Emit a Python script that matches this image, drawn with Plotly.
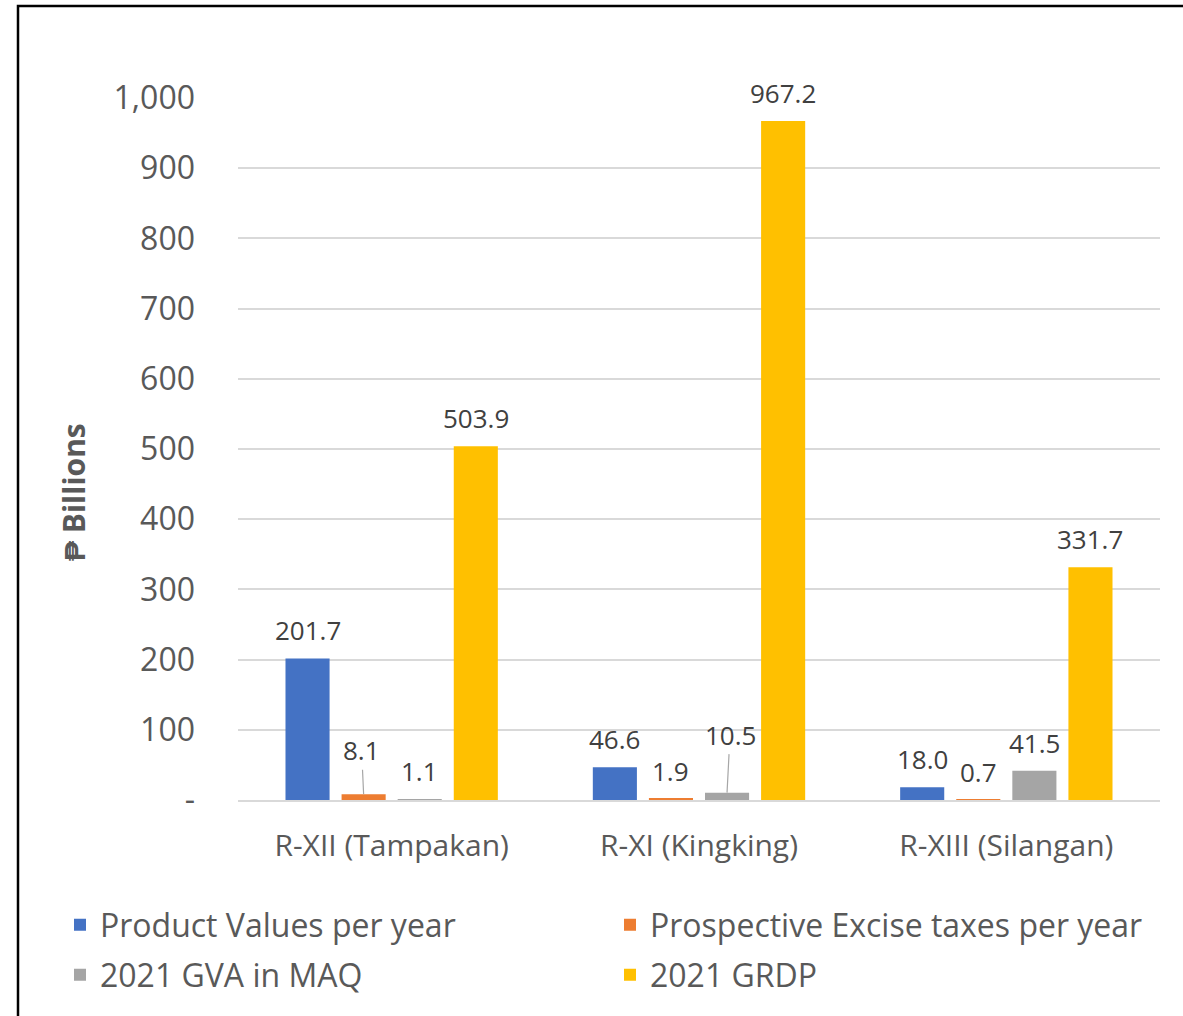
import plotly.graph_objects as go

categories = ["R-XII (Tampakan)", "R-XI (Kingking)", "R-XIII (Silangan)"]
product_values = [201.7, 46.6, 18.0]
excise_taxes = [8.1, 1.9, 0.7]
gva_maq = [1.1, 10.5, 41.5]
grdp = [503.9, 967.2, 331.7]
series_names = ["Product Values per year", "Prospective Excise taxes per year",
                "2021 GVA in MAQ", "2021 GRDP"]
tick_values = [0, 100, 200, 300, 400, 500, 600, 700, 800, 900, 1000]
tick_labels = ["-", "100", "200", "300", "400", "500", "600", "700", "800", "900", "1,000"]

colors = ["#4472C4", "#ED7D31", "#A5A5A5", "#FFC000"]
series = [product_values, excise_taxes, gva_maq, grdp]
legend_rows = ["legend", "legend", "legend2", "legend2"]
FONT = "Open Sans, sans-serif"

fig = go.Figure()
for name, vals, col, lg in zip(series_names, series, colors, legend_rows):
    fig.add_trace(go.Bar(name=name, x=categories, y=vals, marker_color=col,
                         marker_line_width=0, legend=lg))

# data labels
bargap = 0.27
slot = (1 - bargap) / 4
leader = {(1, 0): (-2, -44), (2, 1): (3, -58)}  # (series, category): pixel offsets
LBL = dict(family=FONT, size=26, color="#404040")
for si, vals in enumerate(series):
    for ci, v in enumerate(vals):
        xpos = ci + (si - 1.5) * slot
        if (si, ci) in leader:
            ax, ay = leader[(si, ci)]
            fig.add_annotation(x=xpos, y=v, xref="x", yref="y", text=f"{v:.1f}",
                               showarrow=True, arrowhead=0, arrowwidth=1.2,
                               arrowcolor="#A6A6A6", ax=ax, ay=ay, font=LBL)
        else:
            fig.add_annotation(x=xpos, y=v, xref="x", yref="y", text=f"{v:.1f}",
                               showarrow=False, yanchor="middle", yshift=28, font=LBL)

# y-axis title
fig.add_annotation(text="<b>₱ Billions</b>", textangle=-90, xref="paper", yref="paper",
                   x=(74 - 238) / 922, y=(800 - 492) / 702, showarrow=False,
                   xanchor="center", yanchor="middle",
                   font=dict(family=FONT, size=30, color="#595959"))

# chart border
fig.add_shape(type="rect", xref="paper", yref="paper",
              x0=(18 - 238) / 922, x1=(1190 - 238) / 922,
              y0=(800 - 1030) / 702, y1=(800 - 6) / 702,
              line=dict(color="black", width=2.5), fillcolor="rgba(0,0,0,0)")

LEG = dict(orientation="h", xanchor="left", yanchor="middle", entrywidth=505,
           font=dict(family=FONT, size=32, color="#595959"),
           bgcolor="rgba(0,0,0,0)")
fig.update_layout(
    width=1183, height=1016,
    margin=dict(l=238, r=23, t=98, b=216),
    paper_bgcolor="white", plot_bgcolor="white",
    barmode="group", bargap=bargap, bargroupgap=0.214,
    font=dict(family=FONT, color="#595959"),
    showlegend=True,
    legend=dict(LEG, x=(60 - 238) / 922, y=(800 - 925) / 702),
    legend2=dict(LEG, x=(60 - 238) / 922, y=(800 - 975) / 702),
)
fig.update_xaxes(showgrid=False, showline=True, linecolor="#D9D9D9", linewidth=2,
                 ticks="", ticklabelstandoff=18,
                 tickfont=dict(family=FONT, size=30, color="#595959"),
                 range=[-0.5, 2.5])
fig.update_yaxes(range=[0, 1000], tickvals=tick_values, ticktext=tick_labels,
                 showgrid=True, gridcolor="#D9D9D9", gridwidth=1.5, zeroline=False,
                 showline=False, ticks="", ticklabelstandoff=42,
                 tickfont=dict(family=FONT, size=32, color="#595959"))

fig.write_html("out.html")
